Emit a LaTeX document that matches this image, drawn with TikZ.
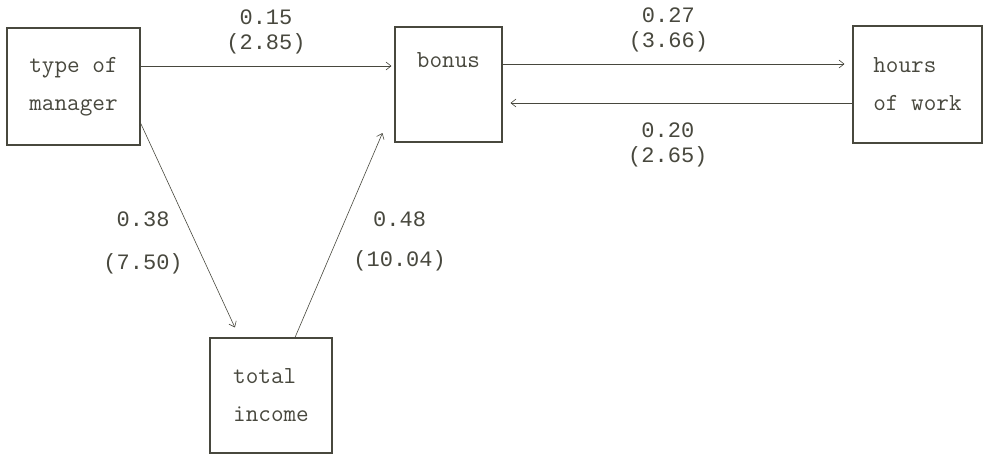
\documentclass[tikz,border=0pt]{standalone}
\usepackage{fontspec}
\newfontfamily\coeffont{Liberation Mono}
\definecolor{inkgray}{RGB}{72,72,62}
\usetikzlibrary{arrows.meta,positioning}

\begin{document}
\begin{tikzpicture}[x=1pt,y=-1pt,
    varbox/.style={draw=inkgray,line width=1.1pt,align=left,inner sep=0pt,
      text=inkgray,font=\ttfamily\fontsize{24.5}{38}\selectfont},
    link/.style={draw=inkgray,line width=0.6pt,-{Straight Barb[length=5pt,width=8pt]}},
    coef/.style={text=inkgray,align=center,inner sep=2pt,
      font=\coeffont\fontsize{22}{25}\selectfont}]
  \useasboundingbox (0,0) rectangle (983,456);

  % variables
  \node[varbox,minimum width=133pt,minimum height=117pt] (manager) at (73.5,86.5) {type of\\manager};
  \node[varbox,minimum width=107pt,minimum height=115pt] (bonus) at (448.5,84.5) {bonus\\\strut};
  \node[varbox,minimum width=129pt,minimum height=117pt] (hours) at (917.5,84.5) {hours\\of work};
  \node[varbox,minimum width=122pt,minimum height=115pt] (income) at (271,395.5) {total\\income};

  % paths with coefficients (t values)
  \draw[link] ([yshift=20.5pt]manager.east) -- ([xshift=-3pt,yshift=18.5pt]bonus.west)
    node[coef,midway,above=10pt] {0.15\\(2.85)};
  \draw[link] ([yshift=20.5pt]bonus.east) -- ([xshift=-8pt,yshift=20.5pt]hours.west)
    node[coef,pos=.485,above=10pt] {0.27\\(3.66)};
  \draw[link] ([yshift=-18.5pt]hours.west) -- ([xshift=8pt,yshift=-18.5pt]bonus.east)
    node[coef,pos=.54,below=17pt] {0.20\\(2.65)};
  \draw[link,shorten >=11pt] ([yshift=-36.5pt]manager.east) -- ([xshift=-31.5pt]income.north)
    node[coef,pos=.56,left=11pt] {0.38\\[18pt](7.50)};
  \draw[link] ([xshift=24pt]income.north) -- ([xshift=-12pt,yshift=-48.5pt]bonus.west)
    node[coef,pos=.47,right=15pt] {0.48\\[15pt](10.04)};
\end{tikzpicture}
\end{document}
